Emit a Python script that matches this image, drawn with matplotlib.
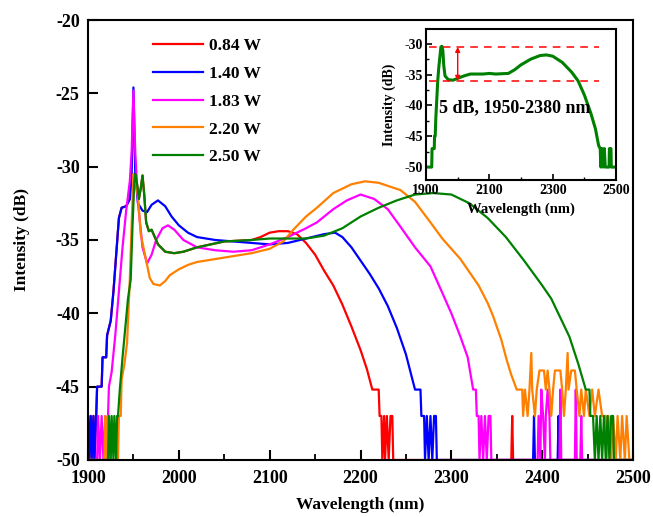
import matplotlib
matplotlib.use("Agg")
import matplotlib.pyplot as plt
from matplotlib.ticker import MultipleLocator

plt.rcParams['font.family'] = ['Liberation Serif', 'DejaVu Serif']
plt.rcParams['font.weight'] = 'bold'
plt.rcParams['axes.unicode_minus'] = False

# ---- datos (nm, dB) ----
wl_084 = [1900, 1901, 1903, 1904, 1906, 1907, 1909, 1910, 1915, 1916, 1920, 1921, 1925, 1928,
          1931, 1934, 1937, 1942, 1946, 1948, 1950, 1952, 1954, 1956, 1958, 1960, 1962, 1964,
          1967, 1970, 1977, 1985, 1995, 2005, 2020, 2050, 2080, 2090, 2100, 2110, 2120, 2130,
          2140, 2150, 2160, 2170, 2180, 2190, 2200, 2207, 2213, 2220, 2221, 2223, 2224, 2226,
          2227, 2229, 2231, 2233, 2235, 2236, 2366, 2367, 2368, 2500]
db_084 = [-47, -50, -47, -50, -47, -50, -47, -45, -45, -43, -43, -41.5, -40.5, -38.5,
          -36, -33.5, -32.8, -32.7, -32.2, -30.5, -30.5, -30.5, -31.2, -32.2, -31.5, -30.6, -32, -33.8,
          -34.4, -34.3, -35.3, -35.8, -35.9, -35.8, -35.5, -35.1, -35.0, -34.8, -34.5, -34.4, -34.4, -34.6,
          -35.2, -36.0, -37.1, -38.1, -39.4, -40.9, -42.5, -43.8, -45.2, -45.2, -47, -47, -50, -47,
          -50, -47, -50, -47, -47, -50, -50, -47, -50, -50]

wl_140 = [1900, 1901, 1903, 1904, 1906, 1907, 1909, 1910, 1915, 1916, 1920, 1921, 1925, 1928,
          1931, 1934, 1937, 1942, 1946, 1948, 1950, 1952, 1955, 1960, 1965, 1970, 1977, 1985,
          1992, 2000, 2010, 2020, 2040, 2060, 2080, 2100, 2120, 2140, 2160, 2172, 2180, 2190,
          2200, 2210, 2220, 2230, 2240, 2250, 2255, 2260, 2266, 2267, 2270, 2271, 2273, 2275,
          2277, 2279, 2281, 2283, 2284, 2390, 2391, 2392, 2417, 2418, 2419, 2500]
db_140 = [-47, -50, -47, -50, -47, -50, -47, -45, -45, -43, -43, -41.5, -40.5, -38.5,
          -36, -33.5, -32.8, -32.7, -32.2, -30.5, -24.6, -30.5, -32.5, -33.0, -33.1, -32.6, -32.3, -32.7,
          -33.4, -34.0, -34.5, -34.8, -35.0, -35.1, -35.2, -35.3, -35.2, -34.9, -34.6, -34.5, -34.8, -35.5,
          -36.4, -37.3, -38.3, -39.5, -41.0, -42.8, -44.0, -45.2, -45.2, -47, -47, -50, -47, -50,
          -47, -50, -47, -47, -50, -50, -47, -50, -50, -47, -50, -50]

wl_183 = [1900, 1910, 1911, 1913, 1915, 1917, 1919, 1921, 1922, 1923, 1926, 1930, 1934, 1938,
          1942, 1946, 1948, 1950, 1952, 1955, 1960, 1965, 1970, 1975, 1982, 1988, 1995, 2005,
          2020, 2040, 2060, 2080, 2100, 2120, 2140, 2152, 2170, 2185, 2200, 2215, 2230, 2244,
          2260, 2277, 2290, 2300, 2310, 2318, 2324, 2327, 2328, 2330, 2331, 2333, 2335, 2337,
          2339, 2341, 2343, 2344, 2395, 2396, 2398, 2399, 2401, 2403, 2404, 2406, 2408, 2409,
          2410, 2419, 2420, 2421, 2436, 2437, 2438, 2442, 2443, 2444, 2500]
db_183 = [-50, -50, -47, -50, -47, -50, -47, -50, -47, -45, -44, -41.5, -38.5, -35.5,
          -33, -31, -29, -24.8, -29, -32.5, -35.5, -36.6, -36.0, -35.0, -34.2, -34.0, -34.3, -35.0,
          -35.5, -35.7, -35.8, -35.7, -35.3, -34.8, -34.2, -33.8, -32.9, -32.3, -31.9, -32.2, -32.9, -34.1,
          -35.5, -36.8, -38.6, -40.0, -41.6, -43.0, -45.2, -45.2, -47, -47, -50, -47, -50, -47,
          -50, -47, -47, -50, -50, -47, -50, -45.2, -47, -50, -47, -45.2, -47, -50,
          -50, -50, -45.2, -50, -50, -45.2, -50, -50, -47, -50, -50]

wl_220 = [1900, 1918, 1919, 1920, 1922, 1923, 1933, 1934, 1936, 1937, 1940, 1943, 1946, 1948,
          1950, 1952, 1955, 1958, 1961, 1964, 1968, 1972, 1979, 1985, 1990, 2000, 2010, 2020,
          2040, 2060, 2080, 2100, 2115, 2126, 2140, 2152, 2170, 2190, 2205, 2220, 2244, 2260,
          2277, 2290, 2300, 2310, 2320, 2330, 2340, 2346, 2355, 2361, 2366, 2372, 2378, 2379,
          2381, 2384, 2386, 2388, 2389, 2392, 2394, 2397, 2402, 2404, 2406, 2408, 2410, 2412,
          2414, 2420, 2422, 2424, 2426, 2428, 2429, 2432, 2436, 2438, 2441, 2443, 2446, 2448,
          2452, 2455, 2458, 2462, 2466, 2470, 2471, 2473, 2476, 2478, 2481, 2483, 2486, 2488,
          2491, 2493, 2496, 2500]
db_220 = [-50, -50, -47, -50, -47, -50, -50, -47, -47, -44.5, -43.5, -42, -37.7, -34,
          -30.5, -30.8, -32, -34.6, -35.5, -36.4, -37.6, -38.0, -38.1, -37.8, -37.4, -37.0, -36.7, -36.5,
          -36.3, -36.1, -35.9, -35.6, -35.1, -34.3, -33.4, -32.8, -31.8, -31.2, -31.0, -31.1, -31.6, -32.4,
          -33.8, -34.9, -35.6, -36.3, -37.2, -38.1, -39.3, -40.2, -41.8, -43.2, -44.2, -45.2, -45.2, -47,
          -45.2, -47, -45.2, -42.7, -45.2, -47, -45.2, -43.9, -43.9, -45.2, -43.9, -45.2, -47, -45.2,
          -43.9, -43.9, -45.2, -47, -45.2, -42.7, -45.2, -43.9, -43.9, -45.2, -47, -45.2, -47, -45.2,
          -47, -45.2, -47, -45.2, -47, -47, -50, -47, -50, -47, -50, -47, -50, -47,
          -50, -47, -50, -50]

wl_250 = [1900, 1922, 1923, 1925, 1926, 1928, 1929, 1931, 1932, 1933, 1935, 1938, 1941, 1944,
          1947, 1949, 1951, 1952, 1954, 1956, 1958, 1960, 1962, 1964, 1967, 1970, 1977, 1985,
          1995, 2005, 2020, 2050, 2080, 2100, 2120, 2140, 2160, 2180, 2200, 2220, 2240, 2260,
          2280, 2300, 2320, 2340, 2360, 2380, 2400, 2410, 2420, 2430, 2440, 2448, 2452, 2453,
          2456, 2458, 2460, 2462, 2464, 2466, 2468, 2470, 2472, 2474, 2476, 2478, 2479, 2500]
db_250 = [-50, -50, -47, -50, -47, -50, -47, -50, -47, -47, -45.2, -43, -41, -39,
          -37.7, -34, -31, -30.5, -31.2, -32.2, -31.5, -30.6, -32, -33.8, -34.4, -34.3, -35.3, -35.8,
          -35.9, -35.8, -35.5, -35.1, -35.0, -34.9, -34.9, -34.9, -34.7, -34.2, -33.4, -32.8, -32.3, -31.9,
          -31.8, -31.9, -32.5, -33.5, -34.8, -36.4, -38.1, -39.0, -40.3, -41.6, -43.5, -45.2, -45.2, -47,
          -47, -50, -47, -50, -47, -50, -47, -50, -47, -50, -47, -47, -50, -50]

series = [
    ('0.84 W', wl_084, db_084, '#ff0000'),
    ('1.40 W', wl_140, db_140, '#0000ff'),
    ('1.83 W', wl_183, db_183, '#ff00ff'),
    ('2.20 W', wl_220, db_220, '#ff8000'),
    ('2.50 W', wl_250, db_250, '#008000'),
]

# espectro del recuadro
wl_ins = [1900, 1918, 1919, 1926, 1927, 1929, 1931, 1934, 1937, 1940, 1944, 1947, 1950, 1953,
          1956, 1960, 1970, 1985, 2000, 2020, 2040, 2080, 2100, 2120, 2160, 2180, 2200, 2230,
          2260, 2280, 2300, 2330, 2360, 2380, 2400, 2420, 2435, 2445, 2450, 2452, 2456, 2459,
          2463, 2466, 2478, 2479, 2484, 2485, 2500]
db_ins = [-50, -50, -47, -47, -45, -45, -42, -39, -36, -34, -32, -30.5, -30.4, -31,
          -33.5, -35.2, -35.8, -35.9, -35.6, -35.2, -34.9, -34.9, -34.8, -34.9, -34.8, -34.2, -33.4, -32.5,
          -31.9, -31.8, -32.0, -33.0, -34.6, -36.0, -38.3, -41.2, -43.8, -46.5, -47, -50, -47, -50,
          -47, -50, -50, -47, -47, -50, -50]
ins_xticks = [1900, 2100, 2300, 2500]
flat_top = -30.5
flat_bottom = -36.0
ins_text = '5 dB, 1950-2380 nm'

fig = plt.figure(figsize=(6.53, 5.17), dpi=100)
ax = fig.add_axes([0.1348, 0.1103, 0.8346, 0.851])

for label, wl, db, color in series:
    ax.plot(wl, db, color=color, lw=1.6, label=label)

ax.set_xlim(1900, 2500)
ax.set_ylim(-50, -20)
ax.xaxis.set_major_locator(MultipleLocator(100))
ax.xaxis.set_minor_locator(MultipleLocator(50))
ax.yaxis.set_major_locator(MultipleLocator(5))
ax.tick_params(axis='both', which='major', direction='in', length=7, width=1.5, labelsize=13)
ax.tick_params(axis='x', which='major', pad=7)
ax.tick_params(axis='y', which='major', pad=6)
ax.tick_params(axis='x', which='minor', direction='in', length=4, width=1.3)
for s in ax.spines.values():
    s.set_linewidth(1.5)
for t in ax.get_xticklabels() + ax.get_yticklabels():
    t.set_fontweight('bold')

ax.set_xlabel('Wavelength (nm)', fontsize=12.5, fontweight='bold')
ax.set_ylabel('Intensity (dB)', fontsize=12.5, fontweight='bold')
ax.xaxis.set_label_coords(0.5, -0.085)
ax.yaxis.set_label_coords(-0.107, 0.5)

leg = ax.legend(loc='upper left', bbox_to_anchor=(0.119, 0.959), frameon=False,
                fontsize=12.5, handlelength=2.9, handletextpad=0.35, labelspacing=0.67,
                borderpad=0, borderaxespad=0)
for t in leg.get_texts():
    t.set_fontweight('bold')

# recuadro
axi = fig.add_axes([0.6524, 0.6518, 0.291, 0.292])
axi.plot(wl_ins, db_ins, color='#008000', lw=2.2)
axi.plot([1910, 2445], [flat_top, flat_top], color='#ff0000', lw=1.1, ls=(0, (5, 4)))
axi.plot([1910, 2445], [flat_bottom, flat_bottom], color='#ff0000', lw=1.1, ls=(0, (5, 4)))
axi.annotate('', xy=(2000, flat_top), xytext=(2000, flat_bottom),
             arrowprops=dict(arrowstyle='<|-|>', color='#ff0000', lw=1.0,
                             mutation_scale=7, shrinkA=0, shrinkB=0))
axi.text(1942, -40.4, ins_text, fontsize=13, fontweight='bold', va='center', ha='left')
axi.set_xlim(1900, 2500)
axi.set_ylim(-52.1, -27.6)
axi.set_xticks(ins_xticks)
axi.xaxis.set_minor_locator(MultipleLocator(100))
axi.yaxis.set_major_locator(MultipleLocator(5))
axi.yaxis.set_minor_locator(MultipleLocator(2.5))
axi.tick_params(axis='both', which='major', direction='in', length=4, width=1.2, labelsize=10)
axi.tick_params(axis='both', which='minor', direction='in', length=2.5, width=1.0)
axi.tick_params(axis='x', which='major', pad=3)
axi.tick_params(axis='y', which='major', pad=2)
for s in axi.spines.values():
    s.set_linewidth(1.5)
for t in axi.get_xticklabels() + axi.get_yticklabels():
    t.set_fontweight('bold')
axi.set_xlabel('Wavelength (nm)', fontsize=10.5, fontweight='bold')
axi.set_ylabel('Intensity (dB)', fontsize=10, fontweight='bold')
axi.xaxis.set_label_coords(0.5, -0.15)
axi.yaxis.set_label_coords(-0.16, 0.5)

fig.savefig('out.png', dpi=100)
